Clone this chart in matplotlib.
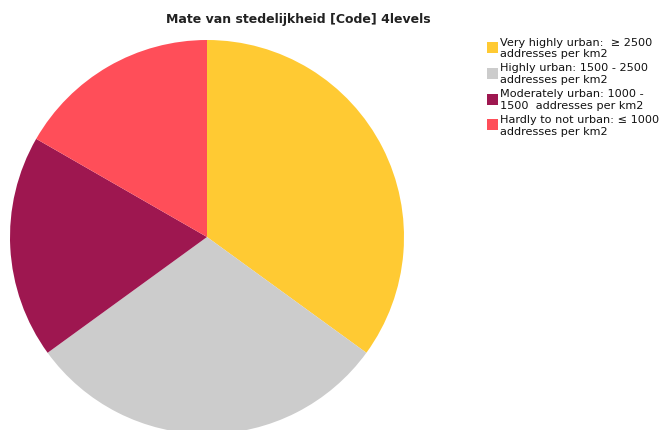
import matplotlib
matplotlib.use("Agg")
import matplotlib.pyplot as plt
from matplotlib.patches import Rectangle

title = "Mate van stedelijkheid [Code] 4levels"
categories = [
    "Very highly urban:  \u2265 2500\naddresses per km2",
    "Highly urban: 1500 - 2500\naddresses per km2",
    "Moderately urban: 1000 -\n1500  addresses per km2",
    "Hardly to not urban: \u2264 1000\naddresses per km2",
]
shares = [35.0, 30.0, 18.3, 16.7]
colors = ["#FFCA33", "#CCCCCC", "#9E1750", "#FF4E59"]

W, H = 661, 430
fig = plt.figure(figsize=(W / 100, H / 100), dpi=100)

# pie axes sized in pixels so the circle lands where it should
cx, cy, r = 207, 237, 197
ax = fig.add_axes([(cx - r) / W, (H - cy - r) / H, 2 * r / W, 2 * r / H])
wedges, _ = ax.pie(shares, colors=colors, startangle=90, counterclock=False,
                   radius=1, wedgeprops=dict(linewidth=0))
ax.set_xlim(-1, 1)
ax.set_ylim(-1, 1)
ax.set_aspect("equal")
ax.axis("off")

fig.text(298 / W, 1 - 20 / H, title, ha="center", va="center",
         fontsize=9, fontweight="bold", color="#222222")

# legend: colour swatch plus two-line label per category
sq = 11
x0, y0, step = 487, 47.5, 25.8
for i, (label, col) in enumerate(zip(categories, colors)):
    yc = y0 + i * step
    fig.patches.append(Rectangle(((x0) / W, 1 - (yc + sq / 2) / H), sq / W, sq / H,
                                 transform=fig.transFigure, facecolor=col,
                                 edgecolor="none"))
    fig.text(500 / W, 1 - (yc + 1) / H, label, ha="left", va="center",
             fontsize=8.1, linespacing=1.22, color="#111111")

fig.savefig("out.png", dpi=100)
